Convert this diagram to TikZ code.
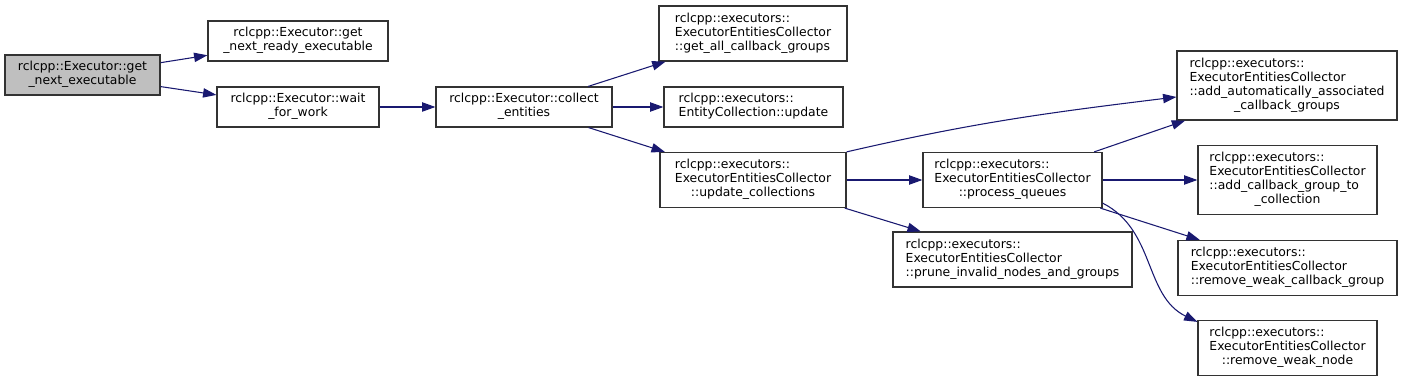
\documentclass[tikz,border=0pt]{standalone}
\usepackage{fontspec}
\setmainfont{DejaVu Sans}
\usetikzlibrary{arrows.meta}
\definecolor{edgeblue}{HTML}{191970}
\definecolor{nodeline}{HTML}{333333}
\definecolor{rootgray}{HTML}{BFBFBF}
\newcommand{\fnfont}{\fontsize{9.3}{10.5}\selectfont}
\newcommand{\cl}[1]{\multicolumn{1}{@{}c@{}}{#1}}
\newcommand{\lft}[1]{\begin{tabular}{@{}l@{}}#1\end{tabular}}
\newcommand{\ctr}[1]{\begin{tabular}{@{}c@{}}#1\end{tabular}}

\begin{document}
\begin{tikzpicture}[x=0.75pt, y=0.75pt,
  fn/.style={draw=nodeline, fill=white, line width=0.9pt, inner sep=0pt, font=\fnfont},
  wh/.style 2 args={minimum width=#1*0.75pt, minimum height=#2*0.75pt},
  call/.style={draw=edgeblue, line width=0.8pt, -{Triangle[length=10pt, width=7pt]}}]
  \useasboundingbox (0,0) rectangle (1423,-381);
  \node[fn, wh={155}{40}, fill=rootgray] (getnext) at (82.5,-75) {\ctr{rclcpp::Executor::get\\\_next\_executable}};
  \node[fn, wh={180}{40}] (ready) at (298,-41) {\ctr{rclcpp::Executor::get\\\_next\_ready\_executable}};
  \node[fn, wh={162}{40}] (wait) at (298,-107) {\ctr{rclcpp::Executor::wait\\\_for\_work}};
  \node[fn, wh={176}{40}] (collect) at (524,-107) {\ctr{rclcpp::Executor::collect\\\_entities}};
  \node[fn, wh={188}{55}] (getall) at (753,-33.5) {\lft{rclcpp::executors::\\ExecutorEntitiesCollector\\::get\_all\_callback\_groups}};
  \node[fn, wh={179}{40}] (ecupdate) at (753.5,-107) {\lft{rclcpp::executors::\\EntityCollection::update}};
  \node[fn, wh={186}{55}] (updcoll) at (753,-180) {\lft{rclcpp::executors::\\ExecutorEntitiesCollector\\\cl{::update\_collections}}};
  \node[fn, wh={179}{55}] (procq) at (1012.5,-180) {\lft{rclcpp::executors::\\ExecutorEntitiesCollector\\\cl{::process\_queues}}};
  \node[fn, wh={239}{55}] (prune) at (1012.5,-259.5) {\lft{rclcpp::executors::\\ExecutorEntitiesCollector\\::prune\_invalid\_nodes\_and\_groups}};
  \node[fn, wh={220}{69}] (autocb) at (1287,-85.5) {\lft{rclcpp::executors::\\ExecutorEntitiesCollector\\::add\_automatically\_associated\\\cl{\_callback\_groups}}};
  \node[fn, wh={179}{69}] (addcb) at (1287.5,-180) {\lft{rclcpp::executors::\\ExecutorEntitiesCollector\\::add\_callback\_group\_to\\\cl{\_collection}}};
  \node[fn, wh={219}{55}] (rmcb) at (1287.5,-268) {\lft{rclcpp::executors::\\ExecutorEntitiesCollector\\::remove\_weak\_callback\_group}};
  \node[fn, wh={179}{55}] (rmnode) at (1287.5,-348) {\lft{rclcpp::executors::\\ExecutorEntitiesCollector\\\cl{::remove\_weak\_node}}};

  \draw[call] (getnext) -- (ready);
  \draw[call] (getnext) -- (wait);
  \draw[call] (wait) -- (collect);
  \draw[call] (collect) -- (getall);
  \draw[call] (collect) -- (ecupdate);
  \draw[call] (collect) -- (updcoll);
  \draw[call] (updcoll.north east) to[out=13, in=187] ([yshift=-8.6pt]autocb.west);
  \draw[call] (updcoll) -- (procq);
  \draw[call] (updcoll) -- (prune);
  \draw[call] (procq) -- (autocb);
  \draw[call] (procq) -- (addcb);
  \draw[call] (procq) -- (rmcb);
  \draw[call] ([yshift=3.75pt]procq.south east) to[out=-27, in=154] ([yshift=-1.5pt]rmnode.north west);
\end{tikzpicture}
\end{document}
